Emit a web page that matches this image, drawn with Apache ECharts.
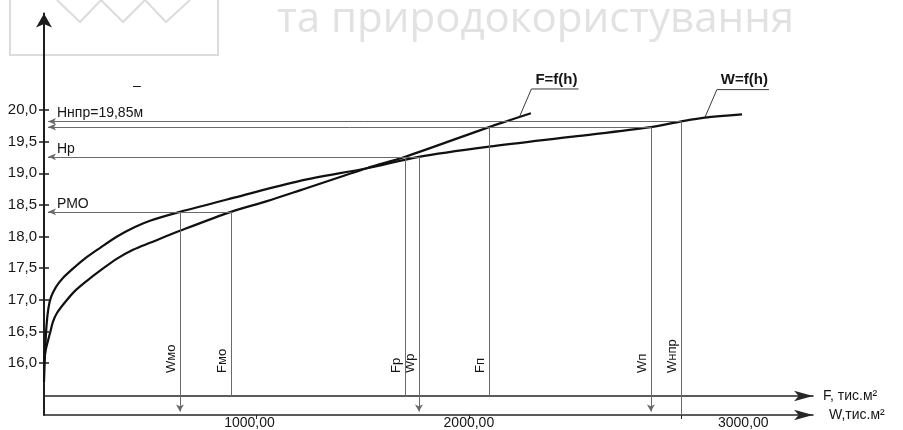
<!DOCTYPE html>
<html>
<head>
<meta charset="utf-8">
<script src="https://cdn.jsdelivr.net/npm/echarts@6/dist/echarts.min.js"></script>
<style>
  html, body { margin: 0; padding: 0; background: #fff; }
  #chart { width: 903px; height: 430px; }
</style>
</head>
<body>
<div id="chart"></div>
<script>
// W = f(h): volume, thousand m3, against level h, m
var wVolume = [0, 5, 12, 21, 33, 56, 85, 132, 188, 264, 344, 428, 499, 640, 890, 1205, 1520, 1765, 2095, 2490, 2857, 3000, 3111, 3286];
var wLevel  = [15.70, 16.17, 16.60, 16.87, 17.04, 17.20, 17.33, 17.48, 17.64, 17.82, 18.00, 18.15, 18.25, 18.39, 18.61, 18.88, 19.08, 19.26, 19.42, 19.58, 19.73, 19.82, 19.88, 19.93];

// F = f(h): area, thousand m2, against level h, m
var fArea  = [0, 9, 28, 42, 61, 99, 146, 202, 264, 344, 419, 499, 640, 880, 1050, 1205, 1520, 1700, 2095, 2184, 2292];
var fLevel = [16.02, 16.22, 16.47, 16.65, 16.79, 16.96, 17.14, 17.30, 17.46, 17.65, 17.79, 17.90, 18.09, 18.39, 18.56, 18.73, 19.08, 19.26, 19.73, 19.83, 19.95];

var yTicks = [16.0, 16.5, 17.0, 17.5, 18.0, 18.5, 19.0, 19.5, 20.0];
var xTicks = [1000, 2000, 3000];

// construction levels and the values
var levelNames  = ['РМО', 'Нр', '', 'Ннпр=19,85м'];
var levelValues = [18.39, 19.26, 19.73, 19.82];
var levelW = [640, 1765, 2857, 3000];
var levelF = [880, 1700, 2095, null];
var wNames = ['Wмо', 'Wр', 'Wп', 'Wнпр'];
var fNames = ['Fмо', 'Fр', 'Fп', ''];
var wHasArrow = [true, true, true, false];

var curveNames = ['F=f(h)', 'W=f(h)'];

var X_MAX = 3620;
var H_MIN = 15.178;
var H_MAX = 21.526;
var GRID = {left: 44, right: 90, top: 13.5, bottom: 15};
var pxX = (903 - GRID.left - GRID.right) / X_MAX;
var pxH = (430 - GRID.top - GRID.bottom) / (H_MAX - H_MIN);
var F_AXIS_LIFT = 19;
var H_F_AXIS = H_MIN + F_AXIS_LIFT / pxH;

var FONT = '"Liberation Sans", Arial, sans-serif';
var INK = '#161616';
var THIN = '#6a6a6a';

function zip(a, b) {
  var out = [];
  for (var i = 0; i < a.length; i++) out.push([a[i], b[i]]);
  return out;
}

var measureCtx = document.createElement('canvas').getContext('2d');
function textWidth(t, font) {
  measureCtx.font = font;
  return measureCtx.measureText(t).width;
}

// helper lines: level -> curve, curve -> axis
var construct = [];
levelValues.forEach(function (lev, i) {
  var reach = Math.max(levelW[i], levelF[i] || 0);
  construct.push([
    {coord: [reach, lev], symbol: 'none'},
    {coord: [4 / pxX, lev], symbol: 'arrow', symbolSize: [5, 8]}
  ]);
  construct.push([
    {coord: [levelW[i], lev], symbol: 'none'},
    wHasArrow[i]
      ? {coord: [levelW[i], H_MIN + 3.5 / pxH], symbol: 'arrow', symbolSize: [6, 7]}
      : {coord: [levelW[i], H_MIN], symbol: 'none'}
  ]);
  if (levelF[i] != null) {
    construct.push([
      {coord: [levelF[i], lev], symbol: 'none'},
      {coord: [levelF[i], H_F_AXIS], symbol: 'none'}
    ]);
  }
});

var levelData = [];
levelValues.forEach(function (lev) { levelData.push([0, lev]); });

var vText = [], vData = [];
wNames.forEach(function (n, i) { vText.push(n); vData.push([levelW[i], H_F_AXIS]); });
fNames.forEach(function (n, i) { if (n) { vText.push(n); vData.push([levelF[i], H_F_AXIS]); } });

var nF = fArea.length, nW = wVolume.length;
var curveAnchors = [
  [(fArea[nF - 2] + fArea[nF - 1]) / 2, (fLevel[nF - 2] + fLevel[nF - 1]) / 2],
  [wVolume[nW - 2], wLevel[nW - 2]]
];

function fmtY(v) { return v.toFixed(1).replace('.', ','); }
function fmtX(v) {
  var s = v + ',00';
  if (v === 3000) return '{r|' + s + '}';
  if (v === 1000) return '{l|' + s + '}';
  return s;
}

var chart = echarts.init(document.getElementById('chart'));

var option = {
  animation: false,
  backgroundColor: '#fff',
  grid: {left: GRID.left, right: GRID.right, top: GRID.top, bottom: GRID.bottom, containLabel: false, outerBoundsMode: 'none'},
  xAxis: [{
    type: 'value', min: 0, max: X_MAX, position: 'bottom',
    name: 'W,тис.м²', nameLocation: 'end', nameGap: 16,
    nameTextStyle: {color: INK, fontSize: 14, fontFamily: FONT, verticalAlign: 'middle'},
    axisLine: {show: true, onZero: false, symbol: ['none', 'arrow'], symbolSize: [8, 19],
      lineStyle: {color: '#262626', width: 1.6}},
    axisTick: {show: true, customValues: xTicks, length: 4, lineStyle: {color: '#262626', width: 1}},
    axisLabel: {show: true, customValues: xTicks, formatter: fmtX, margin: 1, color: INK,
      fontSize: 14, fontFamily: FONT,
      rich: {
        r: {fontSize: 14, fontFamily: FONT, color: INK, padding: [0, 0, 0, 124]},
        l: {fontSize: 14, fontFamily: FONT, color: INK, padding: [0, 14, 0, 0]}
      }},
    splitLine: {show: false}
  }, {
    type: 'value', min: 0, max: X_MAX, position: 'bottom', offset: -F_AXIS_LIFT,
    name: 'F, тис.м²', nameLocation: 'end', nameGap: 10,
    nameTextStyle: {color: INK, fontSize: 14, fontFamily: FONT, verticalAlign: 'middle'},
    axisLine: {show: true, onZero: false, symbol: ['none', 'arrow'], symbolSize: [8, 19],
      lineStyle: {color: '#262626', width: 1.6}},
    axisTick: {show: false},
    axisLabel: {show: false},
    splitLine: {show: false}
  }],
  yAxis: [{
    type: 'value', min: H_MIN, max: H_MAX, position: 'left',
    axisLine: {show: true, onZero: false, symbol: ['none', 'arrow'], symbolSize: [12, 14],
      lineStyle: {color: '#1e1e1e', width: 2}},
    axisTick: {show: true, customValues: yTicks, length: 5, lineStyle: {color: '#1e1e1e', width: 1.5}},
    axisLabel: {show: true, customValues: yTicks, formatter: fmtY, margin: 7, color: INK,
      fontSize: 15, fontFamily: FONT},
    splitLine: {show: false}
  }, {
    type: 'value', min: H_MIN, max: H_MAX, position: 'left',
    axisLine: {show: false},
    axisTick: {show: true, inside: true, customValues: yTicks, length: 5, lineStyle: {color: '#1e1e1e', width: 1.5}},
    axisLabel: {show: false},
    splitLine: {show: false}
  }],
  series: [{
    name: 'W=f(h)', type: 'line', xAxisIndex: 0, yAxisIndex: 0,
    data: zip(wVolume, wLevel), smooth: 0.3, symbol: 'none', silent: true,
    lineStyle: {color: '#111', width: 2.2},
    markLine: {
      silent: true, animation: false,
      label: {show: false},
      lineStyle: {color: THIN, width: 1, type: 'solid'},
      emphasis: {disabled: true},
      data: construct
    },
    z: 3
  }, {
    name: 'F=f(h)', type: 'line', xAxisIndex: 1, yAxisIndex: 0,
    data: zip(fArea, fLevel), smooth: 0.3, symbol: 'none', silent: true,
    lineStyle: {color: '#111', width: 2.2},
    z: 3
  }, {
    // level captions on the horizontal helper lines
    type: 'custom', xAxisIndex: 0, yAxisIndex: 0, silent: true,
    data: levelData,
    renderItem: function (params, api) {
      var p = api.coord([api.value(0), api.value(1)]);
      return {type: 'text', x: p[0] + 13, y: p[1] - 1,
        style: {text: levelNames[params.dataIndex], fill: INK, font: '14px ' + FONT,
          align: 'left', verticalAlign: 'bottom'}};
    }
  }, {
    // captions along the vertical helper lines
    type: 'custom', xAxisIndex: 0, yAxisIndex: 0, silent: true,
    data: vData,
    renderItem: function (params, api) {
      var p = api.coord([api.value(0), api.value(1)]);
      return {type: 'text', x: p[0] - 2, y: p[1] - 23, rotation: Math.PI / 2,
        style: {text: vText[params.dataIndex], fill: INK, font: '13px ' + FONT,
          align: 'left', verticalAlign: 'bottom'}};
    }
  }, {
    // curve names with leader lines
    type: 'custom', xAxisIndex: 0, yAxisIndex: 0, silent: true,
    data: curveAnchors,
    renderItem: function (params, api) {
      var p = api.coord([api.value(0), api.value(1)]);
      var t = curveNames[params.dataIndex];
      var font = 'bold 15px ' + FONT;
      var c = [p[0] + 12, p[1] - 28];
      var w = textWidth(t, font) + 5;
      return {type: 'group', children: [
        {type: 'polyline', shape: {points: [p, c, [c[0] + w, c[1]]]},
          style: {stroke: '#3a3a3a', lineWidth: 1, fill: 'none'}},
        {type: 'text', x: c[0] + 4, y: c[1] - 2,
          style: {text: t, fill: INK, font: font, align: 'left', verticalAlign: 'bottom'}}
      ]};
    }
  }],
  graphic: [
    {type: 'rect', silent: true, shape: {x: 10, y: -30, width: 208, height: 85},
      style: {fill: 'none', stroke: '#dcdcdc', lineWidth: 2}},
    {type: 'polyline', silent: true,
      shape: {points: [[57, 0], [80, 22], [101, 0], [123, 22], [145, 0], [166, 22], [190, 0]]},
      style: {fill: 'none', stroke: '#dcdcdc', lineWidth: 2}},
    {type: 'text', silent: true, x: 277, y: 20,
      style: {text: 'та природокористування', font: '42px "Open Sans", sans-serif', fill: '#e2e2e2',
        align: 'left', verticalAlign: 'middle'}},
    {type: 'text', silent: true, x: 133, y: 86,
      style: {text: '–', font: '14px ' + FONT, fill: INK, align: 'left', verticalAlign: 'middle'}}
  ]
};

chart.setOption(option);
</script>
</body>
</html>
